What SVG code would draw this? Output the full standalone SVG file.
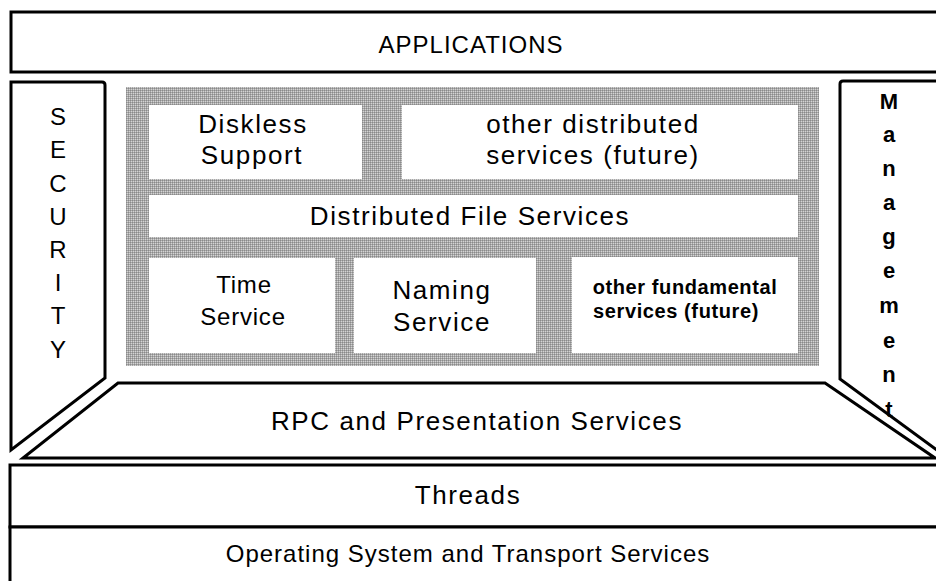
<svg xmlns="http://www.w3.org/2000/svg" width="936" height="581" viewBox="0 0 936 581">
<style>
.ln{fill:#fff;stroke:#000;stroke-width:3;stroke-linejoin:miter}
.t{font-family:"Liberation Sans",Arial,sans-serif;font-size:26px;fill:#000;text-anchor:middle;letter-spacing:1.6px}
.ts{font-family:"Liberation Sans",Arial,sans-serif;font-size:24px;fill:#000;text-anchor:middle;letter-spacing:1px}
.tt{font-family:"Liberation Sans",Arial,sans-serif;font-size:24px;fill:#000;text-anchor:middle;letter-spacing:0.8px}
.tb{font-family:"Liberation Sans",Arial,sans-serif;font-size:20px;font-weight:bold;fill:#000;text-anchor:middle;letter-spacing:0.6px}
.mg{font-family:"Liberation Sans",Arial,sans-serif;font-size:22px;font-weight:bold;fill:#000;text-anchor:middle}
.sc{font-family:"Liberation Sans",Arial,sans-serif;font-size:24px;fill:#000;text-anchor:middle}
.wb{fill:#fff;stroke:none}
</style>
<defs>
<pattern id="mesh" width="2" height="2" patternUnits="userSpaceOnUse">
<rect width="2" height="2" fill="#d4d4d4"/>
<rect width="1" height="1" fill="#8a8a8a"/>
<rect x="1" y="0" width="1" height="1" fill="#a8a8a8"/>
<rect x="0" y="1" width="1" height="1" fill="#a8a8a8"/>
</pattern>
</defs>
<rect width="936" height="581" fill="#fff"/>

<g id="applications">
<rect class="ln" x="11" y="12" width="940" height="60"/>
<text class="ts" x="471" y="53">APPLICATIONS</text>
</g>

<g id="security">
<path class="ln" d="M11,450 L11,82 L102,82 Q105,82 105,85 L105,378 Z"/>
<g class="sc">
<text x="58" y="125">S</text>
<text x="58" y="158">E</text>
<text x="58" y="192">C</text>
<text x="58" y="225">U</text>
<text x="58" y="258">R</text>
<text x="58" y="291">I</text>
<text x="58" y="324">T</text>
<text x="58" y="358">Y</text>
</g>
</g>

<g id="management">
<path class="ln" d="M945,81 L843,81 Q840,81 840,84 L840,379 L945,456"/>
<g class="mg">
<text x="889" y="109">M</text>
<text x="889" y="142">a</text>
<text x="889" y="176">n</text>
<text x="889" y="210">a</text>
<text x="889" y="244">g</text>
<text x="889" y="278">e</text>
<text x="889" y="313">m</text>
<text x="889" y="348">e</text>
<text x="889" y="382">n</text>
<text x="889" y="417">t</text>
</g>
</g>

<g id="services-area">
<rect x="126" y="87" width="693" height="279" fill="url(#mesh)"/>
</g>

<g id="diskless">
<rect class="wb" x="149" y="105" width="213" height="74"/>
<text class="t" x="253" y="133">Diskless</text>
<text class="t" x="252" y="164">Support</text>
</g>

<g id="other-distributed">
<rect class="wb" x="402" y="105" width="396" height="74"/>
<text class="t" x="593" y="133">other distributed</text>
<text class="t" x="593" y="164">services (future)</text>
</g>

<g id="dfs">
<rect class="wb" x="149" y="195" width="649" height="42"/>
<text class="t" x="470" y="225">Distributed File Services</text>
</g>

<g id="time">
<rect class="wb" x="149" y="258" width="186" height="95"/>
<text class="tt" x="244" y="293">Time</text>
<text class="tt" x="243" y="325">Service</text>
</g>

<g id="naming">
<rect class="wb" x="354" y="258" width="182" height="95"/>
<text class="t" x="442" y="299">Naming</text>
<text class="t" x="442" y="331">Service</text>
</g>

<g id="other-fundamental">
<rect class="wb" x="572" y="257" width="226" height="96"/>
<text class="tb" x="685" y="294">other fundamental</text>
<text class="tb" x="676" y="318">services (future)</text>
</g>

<g id="rpc">
<path class="ln" d="M118,383 L825,383 L935,458 L23,458 Z"/>
<text class="t" x="477" y="430">RPC and Presentation Services</text>
</g>

<g id="threads">
<rect class="ln" x="10" y="465" width="940" height="62"/>
<text class="t" x="468" y="504">Threads</text>
</g>

<g id="os">
<rect class="ln" x="10" y="527" width="940" height="70"/>
<text class="ts" x="468" y="562">Operating System and Transport Services</text>
</g>
</svg>
